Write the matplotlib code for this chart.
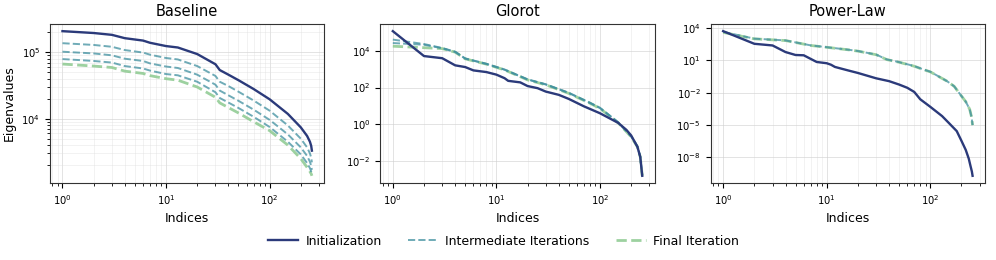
import matplotlib
matplotlib.use("Agg")
import matplotlib.pyplot as plt

# ---------------- Data ----------------
titles = ["Baseline", "Glorot", "Power-Law"]
legend_labels = ["Initialization", "Intermediate Iterations", "Final Iteration"]

# Baseline
base_x = [1, 2, 3, 4, 6, 7, 10, 13, 20, 30, 33, 40, 50, 70, 100, 150, 200, 230, 245, 252, 256]
base_init = [2.08e5, 1.95e5, 1.83e5, 1.63e5, 1.50e5, 1.39e5, 1.24e5, 1.18e5, 9.4e4, 6.6e4, 5.4e4,
             4.6e4, 3.8e4, 2.8e4, 1.96e4, 1.18e4, 7.4e3, 5.5e3, 4.5e3, 3.9e3, 3.3e3]
base_mid1 = [1.37e5, 1.29e5, 1.21e5, 1.08e5, 9.9e4, 9.2e4, 8.2e4, 7.8e4, 6.2e4, 4.4e4, 3.6e4,
             3.1e4, 2.55e4, 1.88e4, 1.32e4, 7.9e3, 5.0e3, 3.7e3, 3.0e3, 2.6e3, 2.2e3]
base_mid2 = [1.02e5, 9.6e4, 9.0e4, 8.0e4, 7.4e4, 6.8e4, 6.1e4, 5.8e4, 4.6e4, 3.25e4, 2.65e4,
             2.25e4, 1.86e4, 1.37e4, 9.6e3, 5.8e3, 3.7e3, 2.75e3, 2.25e3, 1.95e3, 1.7e3]
base_mid3 = [7.9e4, 7.4e4, 7.0e4, 6.2e4, 5.7e4, 5.3e4, 4.7e4, 4.5e4, 3.6e4, 2.5e4, 2.05e4,
             1.75e4, 1.45e4, 1.07e4, 7.5e3, 4.5e3, 2.9e3, 2.15e3, 1.8e3, 1.6e3, 1.5e3]
base_final = [6.65e4, 6.2e4, 5.9e4, 5.2e4, 4.8e4, 4.45e4, 4.0e4, 3.8e4, 3.0e4, 2.1e4, 1.73e4,
              1.47e4, 1.22e4, 9.0e3, 6.6e3, 4.0e3, 2.5e3, 1.85e3, 1.6e3, 1.48e3, 1.38e3]

# Glorot
glo_x = [1, 2, 3, 4, 5, 6, 8, 10, 12, 13, 17, 20, 25, 30, 40, 50, 70, 100, 150, 180, 200, 230, 245, 256]
glo_init = [1.15e5, 5.1e3, 3.9e3, 1.6e3, 1.29e3, 8.5e2, 6.9e2, 5.0e2, 3.2e2, 2.3e2, 1.9e2, 1.2e2,
            92, 60, 40, 24, 9.5, 4.0, 1.2, 0.5, 0.25, 0.06, 0.017, 1.6e-3]
glo_x2 = [1, 2, 3, 4, 5, 8, 12, 20, 30, 50, 80, 100, 150, 200, 230, 245, 256]
glo_mid1 = [4.0e4, 2.3e4, 1.4e4, 8.8e3, 3.8e3, 1.95e3, 9.5e2, 2.8e2, 1.5e2, 52, 15, 8.0, 1.3,
            0.23, 0.065, 0.018, 1.8e-3]
glo_mid2 = [2.6e4, 2.1e4, 1.35e4, 8.5e3, 3.7e3, 1.9e3, 9.2e2, 2.7e2, 1.45e2, 50, 14.5, 7.6, 1.25,
            0.22, 0.062, 0.017, 1.7e-3]
glo_final = [1.75e4, 1.45e4, 1.3e4, 8.3e3, 3.6e3, 1.85e3, 9.0e2, 2.6e2, 1.4e2, 48, 14, 7.3, 1.2,
             0.21, 0.06, 0.017, 1.6e-3]

# Power-Law
pl_x = [1, 2, 3, 4, 5, 6, 8, 10, 11, 12, 16, 20, 30, 40, 50, 60, 70, 80, 100, 130, 150, 180, 200,
        220, 235, 245, 252, 256]
pl_init = [5.2e3, 350, 245, 60, 32, 30, 7.2, 5.5, 4.0, 2.5, 1.2, 0.69, 0.22, 0.12, 0.058, 0.029,
           0.012, 2.5e-3, 5e-4, 6.9e-5, 1.7e-5, 2.8e-6, 3.5e-7, 5e-8, 8e-9, 1.5e-9, 5e-10, 2e-10]
pl_x2 = [1, 2, 4, 7, 10, 16, 20, 30, 38, 50, 70, 86, 100, 145, 170, 200, 220, 240, 250, 256]
pl_mid = [4.5e3, 1.05e3, 720, 250, 170, 100, 75, 35, 12.5, 7.0, 3.0, 1.45, 0.9, 0.12, 0.04,
          5e-3, 1.5e-3, 3e-4, 6e-5, 1e-5]
pl_final = [4.0e3, 1.0e3, 700, 245, 165, 98, 73, 34, 12, 6.8, 2.9, 1.4, 0.88, 0.12, 0.04,
            5e-3, 1.5e-3, 3e-4, 6e-5, 1e-5]

# ---------------- Styles ----------------
c_init = "#2b3a7a"
c_mid = "#3f8f9f"
c_final = "#8cc98f"

fig = plt.figure(figsize=(9.96, 2.6), dpi=100)
gs = fig.add_gridspec(1, 3, left=0.0502, right=0.989, top=0.908, bottom=0.296, wspace=0.204)
axes = [fig.add_subplot(gs[0, i]) for i in range(3)]

panels = [
    (base_x, base_init, base_x, [base_mid1, base_mid2, base_mid3], base_final),
    (glo_x, glo_init, glo_x2, [glo_mid1, glo_mid2], glo_final),
    (pl_x, pl_init, pl_x2, [pl_mid], pl_final),
]

for ax, title, (xi, yi, xm, mids, yf) in zip(axes, titles, panels):
    h_final, = ax.plot(xm, yf, color=c_final, lw=2.0, ls="--", alpha=0.85, label=legend_labels[2])
    h_mid = None
    for ym in mids:
        h_mid, = ax.plot(xm, ym, color=c_mid, lw=1.4, ls="--", alpha=0.75, label=legend_labels[1])
    h_init, = ax.plot(xi, yi, color=c_init, lw=1.7, ls="-", label=legend_labels[0])
    ax.set_xscale("log")
    ax.set_yscale("log")
    ax.set_title(title, fontsize=10.5)
    ax.set_xlabel("Indices", fontsize=9)
    ax.grid(True, which="major", color="#d0d0d0", lw=0.6, alpha=0.7)
    ax.grid(True, which="minor", color="#e0e0e0", lw=0.5, alpha=0.6)
    ax.tick_params(labelsize=7.2)
    for s in ax.spines.values():
        s.set_color("#333333")

axes[0].set_ylabel("Eigenvalues", fontsize=9)

fig.legend([h_init, h_mid, h_final], legend_labels, loc="center", bbox_to_anchor=(0.5055, 0.073),
           ncol=3, frameon=False, fontsize=9, handlelength=2.4, handletextpad=0.6,
           columnspacing=2.1)

fig.savefig("out.png", dpi=100)
